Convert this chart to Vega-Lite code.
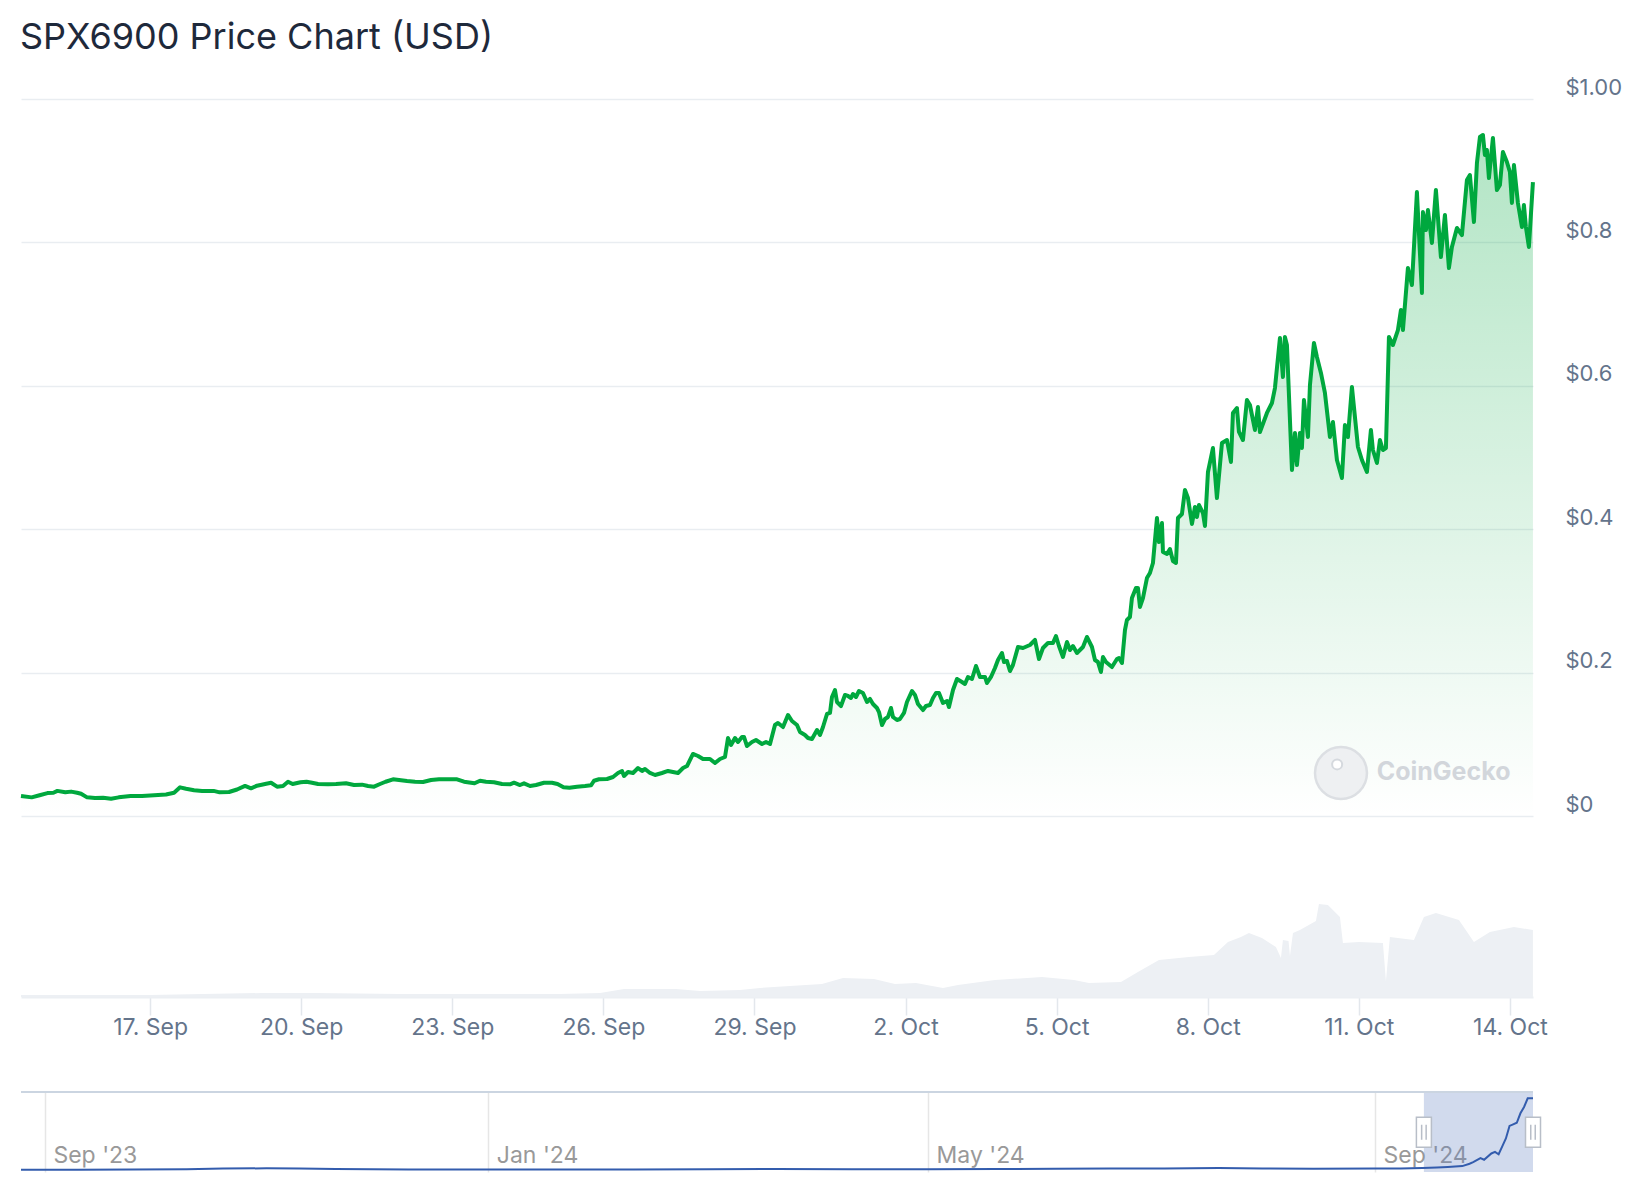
{
  "$schema": "https://vega.github.io/schema/vega-lite/v6.json",
  "background": "#ffffff",
  "padding": {"left": 17, "top": 20, "right": 10, "bottom": 0},
  "config": {"font": "Inter", "view": {"stroke": null}},
  "title": {"text": "SPX6900 Price Chart (USD)", "anchor": "start", "font": "Inter", "fontSize": 36, "fontWeight": 400, "color": "#1e293b", "offset": 19, "dx": 3},
  "datasets": {
    "price": [
      {"t":"2024-09-14T10:30","p":0.028},{"t":"2024-09-14T15:35","p":0.026},{"t":"2024-09-14T19:21","p":0.029},{"t":"2024-09-14T23:07","p":0.032},
      {"t":"2024-09-15T01:58","p":0.0325},{"t":"2024-09-15T03:50","p":0.035},{"t":"2024-09-15T07:36","p":0.033},{"t":"2024-09-15T10:22","p":0.034},
      {"t":"2024-09-15T13:13","p":0.0325},{"t":"2024-09-15T15:07","p":0.031},{"t":"2024-09-15T17:59","p":0.026},{"t":"2024-09-15T21:47","p":0.025},
      {"t":"2024-09-16T01:37","p":0.0255},{"t":"2024-09-16T05:25","p":0.024},{"t":"2024-09-16T09:02","p":0.026},{"t":"2024-09-16T14:43","p":0.028},
      {"t":"2024-09-16T20:11","p":0.028},{"t":"2024-09-17T01:55","p":0.029},{"t":"2024-09-17T07:37","p":0.030},{"t":"2024-09-17T11:26","p":0.0325},
      {"t":"2024-09-17T14:18","p":0.040},{"t":"2024-09-17T17:09","p":0.038},{"t":"2024-09-17T20:58","p":0.036},{"t":"2024-09-18T00:47","p":0.035},
      {"t":"2024-09-18T06:15","p":0.035},{"t":"2024-09-18T09:07","p":0.033},{"t":"2024-09-18T13:38","p":0.0335},{"t":"2024-09-18T17:27","p":0.037},
      {"t":"2024-09-18T21:16","p":0.042},{"t":"2024-09-19T00:07","p":0.0386},{"t":"2024-09-19T02:59","p":0.0423},{"t":"2024-09-19T06:48","p":0.0446},
      {"t":"2024-09-19T09:39","p":0.0464},{"t":"2024-09-19T12:31","p":0.0409},{"t":"2024-09-19T15:22","p":0.0418},{"t":"2024-09-19T17:45","p":0.0478},
      {"t":"2024-09-19T19:57","p":0.0446},{"t":"2024-09-19T23:43","p":0.047},{"t":"2024-09-20T02:34","p":0.0478},{"t":"2024-09-20T05:11","p":0.0464},
      {"t":"2024-09-20T08:03","p":0.0446},{"t":"2024-09-20T12:49","p":0.0442},{"t":"2024-09-20T16:37","p":0.0446},{"t":"2024-09-20T21:23","p":0.0456},
      {"t":"2024-09-21T01:12","p":0.0432},{"t":"2024-09-21T05:01","p":0.0437},{"t":"2024-09-21T07:52","p":0.0418},{"t":"2024-09-21T10:44","p":0.0409},
      {"t":"2024-09-21T13:35","p":0.0446},{"t":"2024-09-21T16:13","p":0.0478},{"t":"2024-09-21T19:47","p":0.0512},{"t":"2024-09-21T22:38","p":0.0502},
      {"t":"2024-09-22T02:27","p":0.0488},{"t":"2024-09-22T06:16","p":0.0478},{"t":"2024-09-22T10:05","p":0.0474},{"t":"2024-09-22T13:53","p":0.0502},
      {"t":"2024-09-22T17:42","p":0.0512},{"t":"2024-09-22T22:28","p":0.0512},{"t":"2024-09-23T02:17","p":0.0512},{"t":"2024-09-23T05:37","p":0.0478},
      {"t":"2024-09-23T08:57","p":0.0464},{"t":"2024-09-23T10:37","p":0.0456},{"t":"2024-09-23T13:14","p":0.0492},{"t":"2024-09-23T16:05","p":0.0478},
      {"t":"2024-09-23T19:55","p":0.047},{"t":"2024-09-23T23:43","p":0.0446},{"t":"2024-09-24T03:32","p":0.0442},{"t":"2024-09-24T05:26","p":0.0464},
      {"t":"2024-09-24T08:17","p":0.0432},{"t":"2024-09-24T10:12","p":0.0456},{"t":"2024-09-24T13:04","p":0.0418},{"t":"2024-09-24T15:55","p":0.0432},
      {"t":"2024-09-24T19:44","p":0.0464},{"t":"2024-09-24T23:32","p":0.0464},{"t":"2024-09-25T02:10","p":0.0446},{"t":"2024-09-25T05:01","p":0.040},
      {"t":"2024-09-25T07:50","p":0.0395},{"t":"2024-09-25T11:27","p":0.0409},{"t":"2024-09-25T15:16","p":0.0418},{"t":"2024-09-25T18:07","p":0.0428},
      {"t":"2024-09-25T19:33","p":0.0492},{"t":"2024-09-25T21:56","p":0.0512},{"t":"2024-09-26T01:45","p":0.0516},{"t":"2024-09-26T04:37","p":0.0544},
      {"t":"2024-09-26T06:59","p":0.060},{"t":"2024-09-26T08:53","p":0.0628},{"t":"2024-09-26T09:51","p":0.0558},{"t":"2024-09-26T11:45","p":0.0614},
      {"t":"2024-09-26T14:08","p":0.060},{"t":"2024-09-26T16:31","p":0.0669},{"t":"2024-09-26T18:25","p":0.0628},{"t":"2024-09-26T19:51","p":0.0656},
      {"t":"2024-09-26T22:14","p":0.060},{"t":"2024-09-27T00:37","p":0.0572},{"t":"2024-09-27T03:57","p":0.060},{"t":"2024-09-27T06:49","p":0.0628},
      {"t":"2024-09-27T09:11","p":0.0614},{"t":"2024-09-27T11:35","p":0.060},{"t":"2024-09-27T13:58","p":0.0669},{"t":"2024-09-27T15:52","p":0.0697},
      {"t":"2024-09-27T18:43","p":0.0865},{"t":"2024-09-27T21:07","p":0.0837},{"t":"2024-09-27T23:29","p":0.0795},{"t":"2024-09-28T02:49","p":0.0795},
      {"t":"2024-09-28T05:13","p":0.0739},{"t":"2024-09-28T07:35","p":0.0795},{"t":"2024-09-28T09:58","p":0.0823},{"t":"2024-09-28T11:24","p":0.1088},
      {"t":"2024-09-28T12:50","p":0.099},{"t":"2024-09-28T14:44","p":0.1088},{"t":"2024-09-28T16:10","p":0.1032},{"t":"2024-09-28T18:04","p":0.1102},
      {"t":"2024-09-28T19:01","p":0.1102},{"t":"2024-09-28T20:27","p":0.0976},{"t":"2024-09-28T22:50","p":0.1032},{"t":"2024-09-29T00:44","p":0.106},
      {"t":"2024-09-29T03:36","p":0.1004},{"t":"2024-09-29T05:31","p":0.1032},{"t":"2024-09-29T07:25","p":0.1004},{"t":"2024-09-29T09:47","p":0.1269},
      {"t":"2024-09-29T11:13","p":0.1297},{"t":"2024-09-29T13:37","p":0.1241},{"t":"2024-09-29T15:59","p":0.1409},{"t":"2024-09-29T17:53","p":0.1325},
      {"t":"2024-09-29T20:17","p":0.1269},{"t":"2024-09-29T21:43","p":0.1172},{"t":"2024-09-30T00:05","p":0.113},{"t":"2024-09-30T01:31","p":0.1088},
      {"t":"2024-09-30T03:25","p":0.1074},{"t":"2024-09-30T05:49","p":0.1199},{"t":"2024-09-30T07:14","p":0.113},{"t":"2024-09-30T08:40","p":0.1241},
      {"t":"2024-09-30T10:34","p":0.1423},{"t":"2024-09-30T12:00","p":0.1437},{"t":"2024-09-30T12:57","p":0.166},{"t":"2024-09-30T14:23","p":0.1757},
      {"t":"2024-09-30T15:20","p":0.159},{"t":"2024-09-30T17:14","p":0.1534},{"t":"2024-09-30T19:09","p":0.1688},{"t":"2024-09-30T20:35","p":0.1674},
      {"t":"2024-09-30T22:01","p":0.1646},{"t":"2024-09-30T22:58","p":0.1702},{"t":"2024-10-01T00:23","p":0.166},{"t":"2024-10-01T01:49","p":0.1743},
      {"t":"2024-10-01T03:43","p":0.1715},{"t":"2024-10-01T05:38","p":0.159},{"t":"2024-10-01T07:04","p":0.1632},{"t":"2024-10-01T08:29","p":0.1562},
      {"t":"2024-10-01T10:23","p":0.1506},{"t":"2024-10-01T11:21","p":0.145},{"t":"2024-10-01T12:47","p":0.1269},{"t":"2024-10-01T14:13","p":0.1353},
      {"t":"2024-10-01T15:38","p":0.1381},{"t":"2024-10-01T17:04","p":0.1506},{"t":"2024-10-01T18:01","p":0.1381},{"t":"2024-10-01T19:55","p":0.1339},
      {"t":"2024-10-01T21:21","p":0.1353},{"t":"2024-10-01T23:16","p":0.1437},{"t":"2024-10-02T00:41","p":0.159},{"t":"2024-10-02T03:04","p":0.1743},
      {"t":"2024-10-02T04:30","p":0.1688},{"t":"2024-10-02T05:56","p":0.1562},{"t":"2024-10-02T08:19","p":0.1478},{"t":"2024-10-02T09:44","p":0.1534},
      {"t":"2024-10-02T11:39","p":0.1548},{"t":"2024-10-02T13:05","p":0.1646},{"t":"2024-10-02T14:31","p":0.1715},{"t":"2024-10-02T15:56","p":0.1715},
      {"t":"2024-10-02T17:50","p":0.1576},{"t":"2024-10-02T19:45","p":0.1604},{"t":"2024-10-02T20:42","p":0.152},{"t":"2024-10-02T22:37","p":0.1757},
      {"t":"2024-10-03T00:31","p":0.1911},{"t":"2024-10-03T02:53","p":0.1869},{"t":"2024-10-03T04:19","p":0.1841},{"t":"2024-10-03T05:45","p":0.1939},
      {"t":"2024-10-03T07:40","p":0.1911},{"t":"2024-10-03T09:34","p":0.2092},{"t":"2024-10-03T11:28","p":0.1939},{"t":"2024-10-03T13:51","p":0.1939},
      {"t":"2024-10-03T14:49","p":0.1855},{"t":"2024-10-03T16:43","p":0.1939},{"t":"2024-10-03T18:37","p":0.2064},{"t":"2024-10-03T20:03","p":0.2176},
      {"t":"2024-10-03T21:57","p":0.2273},{"t":"2024-10-03T22:55","p":0.2148},{"t":"2024-10-04T00:20","p":0.2162},{"t":"2024-10-04T01:46","p":0.2022},
      {"t":"2024-10-04T03:11","p":0.2106},{"t":"2024-10-04T05:35","p":0.2357},{"t":"2024-10-04T07:58","p":0.2343},{"t":"2024-10-04T11:17","p":0.2385},
      {"t":"2024-10-04T13:41","p":0.2455},{"t":"2024-10-04T15:35","p":0.219},{"t":"2024-10-04T17:29","p":0.2343},{"t":"2024-10-04T19:52","p":0.2413},
      {"t":"2024-10-04T22:15","p":0.2413},{"t":"2024-10-04T23:41","p":0.251},{"t":"2024-10-05T01:07","p":0.2371},{"t":"2024-10-05T03:01","p":0.2218},
      {"t":"2024-10-05T04:55","p":0.2427},{"t":"2024-10-05T06:21","p":0.2315},{"t":"2024-10-05T07:47","p":0.2371},{"t":"2024-10-05T09:41","p":0.2273},
      {"t":"2024-10-05T12:33","p":0.2357},{"t":"2024-10-05T14:27","p":0.2497},{"t":"2024-10-05T16:50","p":0.2357},{"t":"2024-10-05T18:16","p":0.2176},
      {"t":"2024-10-05T19:41","p":0.2148},{"t":"2024-10-05T21:07","p":0.2008},{"t":"2024-10-05T22:05","p":0.2218},{"t":"2024-10-05T23:31","p":0.2148},
      {"t":"2024-10-06T02:22","p":0.2078},{"t":"2024-10-06T04:45","p":0.219},{"t":"2024-10-06T05:42","p":0.2204},{"t":"2024-10-06T07:08","p":0.2134},
      {"t":"2024-10-06T08:34","p":0.2594},{"t":"2024-10-06T09:31","p":0.2734},{"t":"2024-10-06T10:56","p":0.2775},{"t":"2024-10-06T11:53","p":0.304},
      {"t":"2024-10-06T13:48","p":0.318},{"t":"2024-10-06T14:45","p":0.318},{"t":"2024-10-06T15:43","p":0.2915},{"t":"2024-10-06T17:08","p":0.304},
      {"t":"2024-10-06T19:02","p":0.3319},{"t":"2024-10-06T20:28","p":0.3389},{"t":"2024-10-06T21:54","p":0.3529},{"t":"2024-10-06T23:49","p":0.4156},
      {"t":"2024-10-07T00:46","p":0.3821},{"t":"2024-10-07T02:11","p":0.4086},{"t":"2024-10-07T02:40","p":0.3682},{"t":"2024-10-07T04:34","p":0.3654},
      {"t":"2024-10-07T06:00","p":0.3724},{"t":"2024-10-07T07:26","p":0.3556},{"t":"2024-10-07T08:52","p":0.3529},{"t":"2024-10-07T09:49","p":0.4156},
      {"t":"2024-10-07T11:43","p":0.4212},{"t":"2024-10-07T13:09","p":0.4547},{"t":"2024-10-07T14:35","p":0.4435},{"t":"2024-10-07T16:29","p":0.4073},
      {"t":"2024-10-07T17:55","p":0.431},{"t":"2024-10-07T18:52","p":0.417},{"t":"2024-10-07T19:49","p":0.4338},{"t":"2024-10-07T21:43","p":0.4226},
      {"t":"2024-10-07T22:41","p":0.4045},{"t":"2024-10-08T00:07","p":0.4798},{"t":"2024-10-08T02:29","p":0.5132},{"t":"2024-10-08T04:23","p":0.4435},
      {"t":"2024-10-08T06:47","p":0.5202},{"t":"2024-10-08T09:10","p":0.5244},{"t":"2024-10-08T11:04","p":0.4937},{"t":"2024-10-08T12:01","p":0.5621},
      {"t":"2024-10-08T13:55","p":0.569},{"t":"2024-10-08T14:53","p":0.5356},{"t":"2024-10-08T16:47","p":0.5244},{"t":"2024-10-08T18:41","p":0.5802},
      {"t":"2024-10-08T20:07","p":0.5732},{"t":"2024-10-08T22:30","p":0.5384},{"t":"2024-10-08T23:56","p":0.5704},{"t":"2024-10-09T00:53","p":0.5356},
      {"t":"2024-10-09T04:13","p":0.5621},{"t":"2024-10-09T06:36","p":0.576},{"t":"2024-10-09T08:02","p":0.5969},{"t":"2024-10-09T10:25","p":0.6667},
      {"t":"2024-10-09T11:50","p":0.6123},{"t":"2024-10-09T12:47","p":0.6681},{"t":"2024-10-09T13:45","p":0.6569},{"t":"2024-10-09T16:08","p":0.4826},
      {"t":"2024-10-09T17:34","p":0.5342},{"t":"2024-10-09T18:31","p":0.4895},{"t":"2024-10-09T19:56","p":0.5342},{"t":"2024-10-09T20:53","p":0.5132},
      {"t":"2024-10-09T21:51","p":0.5802},{"t":"2024-10-09T23:45","p":0.5286},{"t":"2024-10-10T00:43","p":0.6011},{"t":"2024-10-10T02:37","p":0.6597},
      {"t":"2024-10-10T04:02","p":0.6402},{"t":"2024-10-10T05:57","p":0.6179},{"t":"2024-10-10T07:51","p":0.59},{"t":"2024-10-10T10:14","p":0.5286},
      {"t":"2024-10-10T11:40","p":0.5495},{"t":"2024-10-10T13:34","p":0.4965},{"t":"2024-10-10T15:57","p":0.4714},{"t":"2024-10-10T17:23","p":0.5453},
      {"t":"2024-10-10T18:49","p":0.5286},{"t":"2024-10-10T20:43","p":0.5983},{"t":"2024-10-10T23:35","p":0.5146},{"t":"2024-10-11T01:29","p":0.4965},
      {"t":"2024-10-11T03:52","p":0.4798},{"t":"2024-10-11T05:46","p":0.5384},{"t":"2024-10-11T06:43","p":0.5105},{"t":"2024-10-11T08:38","p":0.4923},
      {"t":"2024-10-11T10:04","p":0.5244},{"t":"2024-10-11T11:29","p":0.5105},{"t":"2024-10-11T12:55","p":0.5132},{"t":"2024-10-11T14:21","p":0.6681},
      {"t":"2024-10-11T16:15","p":0.6569},{"t":"2024-10-11T18:38","p":0.6778},{"t":"2024-10-11T20:04","p":0.7057},{"t":"2024-10-11T21:01","p":0.6778},
      {"t":"2024-10-11T23:24","p":0.7643},{"t":"2024-10-12T01:18","p":0.7406},{"t":"2024-10-12T03:41","p":0.8703},{"t":"2024-10-12T06:04","p":0.7294},
      {"t":"2024-10-12T06:33","p":0.8424},{"t":"2024-10-12T07:59","p":0.8173},{"t":"2024-10-12T08:56","p":0.8452},{"t":"2024-10-12T10:50","p":0.7992},
      {"t":"2024-10-12T12:44","p":0.8731},{"t":"2024-10-12T15:07","p":0.7796},{"t":"2024-10-12T17:02","p":0.8382},{"t":"2024-10-12T18:56","p":0.7643},
      {"t":"2024-10-12T20:22","p":0.7936},{"t":"2024-10-12T22:45","p":0.8201},{"t":"2024-10-13T01:08","p":0.8103},{"t":"2024-10-13T03:31","p":0.887},
      {"t":"2024-10-13T04:56","p":0.894},{"t":"2024-10-13T06:51","p":0.8285},{"t":"2024-10-13T08:17","p":0.9107},{"t":"2024-10-13T09:43","p":0.947},
      {"t":"2024-10-13T11:08","p":0.9498},{"t":"2024-10-13T12:05","p":0.9219},{"t":"2024-10-13T13:02","p":0.9289},{"t":"2024-10-13T14:00","p":0.8898},
      {"t":"2024-10-13T15:54","p":0.9456},{"t":"2024-10-13T17:48","p":0.8731},{"t":"2024-10-13T19:14","p":0.8801},{"t":"2024-10-13T20:40","p":0.9261},
      {"t":"2024-10-13T22:34","p":0.9121},{"t":"2024-10-14T00:00","p":0.8982},{"t":"2024-10-14T00:57","p":0.855},{"t":"2024-10-14T01:55","p":0.9079},
      {"t":"2024-10-14T03:49","p":0.855},{"t":"2024-10-14T05:43","p":0.8215},{"t":"2024-10-14T06:40","p":0.8522},{"t":"2024-10-14T07:37","p":0.8215},
      {"t":"2024-10-14T09:03","p":0.7936},{"t":"2024-10-14T10:58","p":0.8842}
    ],
    "volume": [
      {"t":"2024-09-14T10:30","v":1},{"t":"2024-09-17T00:00","v":1},{"t":"2024-09-19T05:22","v":2},{"t":"2024-09-20T06:37","v":2},
      {"t":"2024-09-21T23:07","v":1.5},{"t":"2024-09-25T03:21","v":1.5},{"t":"2024-09-25T22:25","v":2},{"t":"2024-09-26T09:51","v":4},
      {"t":"2024-09-27T10:37","v":4},{"t":"2024-09-27T22:04","v":3},{"t":"2024-09-28T17:07","v":3.5},{"t":"2024-09-29T02:39","v":4.5},
      {"t":"2024-09-30T08:11","v":6.5},{"t":"2024-09-30T18:12","v":9.5},{"t":"2024-10-01T08:58","v":9},{"t":"2024-10-01T18:58","v":6.5},
      {"t":"2024-10-02T04:58","v":7},{"t":"2024-10-02T17:50","v":4.5},{"t":"2024-10-03T00:59","v":6},{"t":"2024-10-03T18:37","v":8.5},
      {"t":"2024-10-04T17:01","v":10},{"t":"2024-10-05T08:16","v":8.5},{"t":"2024-10-05T15:24","v":7},{"t":"2024-10-06T06:39","v":7.5},
      {"t":"2024-10-06T14:45","v":12.5},{"t":"2024-10-07T00:46","v":18.5},{"t":"2024-10-07T15:03","v":20},{"t":"2024-10-08T02:58","v":21},
      {"t":"2024-10-08T09:38","v":27.5},{"t":"2024-10-08T15:50","v":30},{"t":"2024-10-08T19:38","v":32},{"t":"2024-10-09T01:50","v":29.5},
      {"t":"2024-10-09T08:30","v":25},{"t":"2024-10-09T10:53","v":19.5},{"t":"2024-10-09T11:50","v":28.5},{"t":"2024-10-09T14:30","v":28},
      {"t":"2024-10-09T15:11","v":20.5},{"t":"2024-10-09T16:37","v":32},{"t":"2024-10-09T19:56","v":33.5},{"t":"2024-10-10T03:34","v":38},
      {"t":"2024-10-10T05:00","v":46.5},{"t":"2024-10-10T09:17","v":46},{"t":"2024-10-10T15:00","v":40},{"t":"2024-10-10T16:26","v":27},
      {"t":"2024-10-11T00:03","v":27.5},{"t":"2024-10-11T11:29","v":27},{"t":"2024-10-11T12:55","v":8},{"t":"2024-10-11T14:49","v":30},
      {"t":"2024-10-12T02:16","v":28.5},{"t":"2024-10-12T07:01","v":40},{"t":"2024-10-12T12:44","v":42},{"t":"2024-10-12T23:42","v":38.5},
      {"t":"2024-10-13T06:51","v":27.5},{"t":"2024-10-13T14:28","v":32.5},{"t":"2024-10-14T01:55","v":35},{"t":"2024-10-14T10:58","v":33.5}
    ],
    "nav": [
      {"t":"2023-08-25T10:00","v":0.003},{"t":"2023-09-10","v":0.005},{"t":"2023-09-25","v":0.006},{"t":"2023-10-10","v":0.01},
      {"t":"2023-10-20","v":0.018},{"t":"2023-11-01","v":0.022},{"t":"2023-11-10","v":0.02},{"t":"2023-11-20","v":0.012},
      {"t":"2023-12-10","v":0.008},{"t":"2024-01-01","v":0.007},{"t":"2024-01-20","v":0.006},{"t":"2024-02-10","v":0.008},
      {"t":"2024-03-01","v":0.01},{"t":"2024-03-20","v":0.012},{"t":"2024-04-10","v":0.01},{"t":"2024-05-01","v":0.009},
      {"t":"2024-05-20","v":0.012},{"t":"2024-06-05","v":0.016},{"t":"2024-06-20","v":0.018},{"t":"2024-07-05","v":0.02},
      {"t":"2024-07-20","v":0.026},{"t":"2024-08-01","v":0.02},{"t":"2024-08-15","v":0.015},{"t":"2024-09-01","v":0.018},
      {"t":"2024-09-08","v":0.02},{"t":"2024-09-14","v":0.025},{"t":"2024-09-18","v":0.032},{"t":"2024-09-21","v":0.04},
      {"t":"2024-09-25","v":0.05},{"t":"2024-09-27","v":0.08},{"t":"2024-09-28","v":0.1},{"t":"2024-09-30","v":0.15},
      {"t":"2024-10-01","v":0.13},{"t":"2024-10-03","v":0.21},{"t":"2024-10-04","v":0.23},{"t":"2024-10-05","v":0.2},
      {"t":"2024-10-06","v":0.3},{"t":"2024-10-07","v":0.4},{"t":"2024-10-08","v":0.56},{"t":"2024-10-09","v":0.58},
      {"t":"2024-10-10","v":0.6},{"t":"2024-10-11","v":0.72},{"t":"2024-10-12","v":0.8},{"t":"2024-10-13","v":0.91},
      {"t":"2024-10-14T11:00","v":0.91}
    ],
    "sel": [{"start":"2024-09-14T10:30","end":"2024-10-14T11:00"}],
    "handles": [{"t":"2024-09-14T10:30"},{"t":"2024-10-14T11:00"}]
  },
  "vconcat": [
    {
      "vconcat": [
        {
          "width": 1512, "height": 717,
          "resolve": {"axis": {"x": "independent", "y": "independent"}},
          "layer": [
            {
              "data": {"name": "price"},
              "mark": {"type": "area", "color": {"gradient": "linear", "x1": 0, "y1": 1, "x2": 0, "y2": 0, "stops": [{"offset": 0, "color": "rgba(0,168,62,0)"}, {"offset": 1, "color": "rgba(0,168,62,0.3)"}]}},
              "encoding": {
                "x": {"field": "t", "type": "temporal", "scale": {"domain": [{"year": 2024, "month": "sep", "date": 14, "hours": 10, "minutes": 30}, {"year": 2024, "month": "oct", "date": 14, "hours": 11}]}, "axis": null},
                "y": {"field": "p", "type": "quantitative", "scale": {"domain": [0, 1], "nice": false, "zero": true},
                  "axis": {"orient": "right", "values": [0, 0.2, 0.4, 0.6, 0.8, 1], "labelExpr": "datum.value === 0 ? '$0' : (datum.value === 1 ? '$1.00' : '$' + format(datum.value, '.1f'))", "grid": true, "gridColor": "#e9edf1", "gridWidth": 1.5, "domain": false, "ticks": false, "labelAlign": "left", "labelPadding": 32, "labelBaseline": "alphabetic", "labelOffset": -5, "labelFontSize": 22, "labelFont": "Inter", "labelColor": "#64748b", "title": null}}
              }
            },
            {
              "data": {"name": "price"},
              "mark": {"type": "line", "color": "#00a83e", "strokeWidth": 4, "strokeJoin": "round", "strokeCap": "butt"},
              "encoding": {
                "x": {"field": "t", "type": "temporal", "axis": null},
                "y": {"field": "p", "type": "quantitative", "axis": null}
              }
            },
            {
              "data": {"values": [{}]},
              "mark": {"type": "point", "shape": "circle", "size": 2700, "filled": true, "fill": "#eef0f2", "stroke": "#dcdfe3", "strokeWidth": 2.5, "opacity": 1},
              "encoding": {
                "x": {"datum": {"year": 2024, "month": "oct", "date": 10, "hours": 15, "minutes": 30}, "type": "temporal", "axis": null},
                "y": {"datum": 0.06, "type": "quantitative", "axis": null}
              }
            },
            {
              "data": {"values": [{}]},
              "mark": {"type": "point", "shape": "circle", "size": 100, "filled": true, "fill": "#ffffff", "stroke": "#d5d9de", "strokeWidth": 2, "opacity": 1},
              "encoding": {
                "x": {"datum": {"year": 2024, "month": "oct", "date": 10, "hours": 13, "minutes": 40}, "type": "temporal", "axis": null},
                "y": {"datum": 0.072, "type": "quantitative", "axis": null}
              }
            },
            {
              "data": {"values": [{}]},
              "mark": {"type": "text", "text": "CoinGecko", "font": "Inter", "fontSize": 25, "fontWeight": 700, "color": "#d2d6db", "align": "left", "baseline": "middle"},
              "encoding": {
                "x": {"datum": {"year": 2024, "month": "oct", "date": 11, "hours": 8, "minutes": 30}, "type": "temporal", "axis": null},
                "y": {"datum": 0.0614, "type": "quantitative", "axis": null}
              }
            }
          ]
        },
        {
          "width": 1512, "height": 171,
          "data": {"name": "volume"},
          "mark": {"type": "area", "color": "#edf0f4"},
          "encoding": {
            "x": {"field": "t", "type": "temporal", "scale": {"domain": [{"year": 2024, "month": "sep", "date": 14, "hours": 10, "minutes": 30}, {"year": 2024, "month": "oct", "date": 14, "hours": 11}]},
              "axis": {"values": [{"year": 2024, "month": "sep", "date": 17}, {"year": 2024, "month": "sep", "date": 20}, {"year": 2024, "month": "sep", "date": 23}, {"year": 2024, "month": "sep", "date": 26}, {"year": 2024, "month": "sep", "date": 29}, {"year": 2024, "month": "oct", "date": 2}, {"year": 2024, "month": "oct", "date": 5}, {"year": 2024, "month": "oct", "date": 8}, {"year": 2024, "month": "oct", "date": 11}, {"year": 2024, "month": "oct", "date": 14}],
                "format": "%-d. %b", "labelFontSize": 23, "labelFont": "Inter", "labelColor": "#64748b", "tickSize": 18, "tickColor": "#e3e7ec", "tickWidth": 1.5, "domainColor": "#eceff3", "domainWidth": 2, "labelPadding": 1, "grid": false, "title": null, "labelFlush": false, "labelOverlap": false}},
            "y": {"field": "v", "type": "quantitative", "scale": {"domain": [0, 85.5], "nice": false}, "axis": null}
          }
        }
      ],
      "spacing": 10,
      "bounds": "flush"
    },
    {
      "width": 1512, "height": 80,
      "resolve": {"axis": {"x": "independent", "y": "independent"}},
      "layer": [
        {
          "data": {"name": "sel"},
          "mark": {"type": "rect", "color": "#6685c2", "opacity": 0.3},
          "encoding": {
            "x": {"field": "start", "type": "temporal", "scale": {"domain": [{"year": 2023, "month": "aug", "date": 25, "hours": 10}, {"year": 2024, "month": "oct", "date": 14, "hours": 11}]},
              "axis": {"values": [{"year": 2023, "month": "sep", "date": 1}, {"year": 2024, "month": "jan", "date": 1}, {"year": 2024, "month": "may", "date": 1}, {"year": 2024, "month": "sep", "date": 1}],
                "format": "%b '%y", "grid": true, "gridColor": "#e6e6e6", "gridWidth": 1.5, "ticks": false, "tickSize": 0, "domain": false, "labelAlign": "left", "labelBaseline": "alphabetic", "labelPadding": -10, "labelOffset": 8, "labelFontSize": 23, "labelFont": "Inter", "labelColor": "#999999", "title": null, "labelFlush": false, "labelOverlap": false}},
            "x2": {"field": "end"}
          }
        },
        {
          "data": {"name": "nav"},
          "mark": {"type": "line", "color": "#335cad", "strokeWidth": 2},
          "encoding": {
            "x": {"field": "t", "type": "temporal", "axis": null},
            "y": {"field": "v", "type": "quantitative", "scale": {"domain": [-0.025, 0.99], "nice": false, "zero": false}, "axis": null}
          }
        },
        {
          "data": {"values": [{}]},
          "mark": {"type": "rule", "color": "#cbd5e1", "strokeWidth": 2},
          "encoding": {"y": {"datum": 0.99, "type": "quantitative", "axis": null}}
        },
        {
          "data": {"name": "handles"},
          "mark": {"type": "point", "shape": "M-0.5,-1H0.5V1H-0.5Z M-0.15,-0.5V0.5 M0.15,-0.5V0.5", "size": 900, "filled": true, "fill": "#ffffff", "stroke": "#b8bec8", "strokeWidth": 1.5, "opacity": 1},
          "encoding": {
            "x": {"field": "t", "type": "temporal", "axis": null},
            "y": {"datum": 0.48, "type": "quantitative", "axis": null}
          }
        }
      ]
    }
  ],
  "spacing": 52
}
